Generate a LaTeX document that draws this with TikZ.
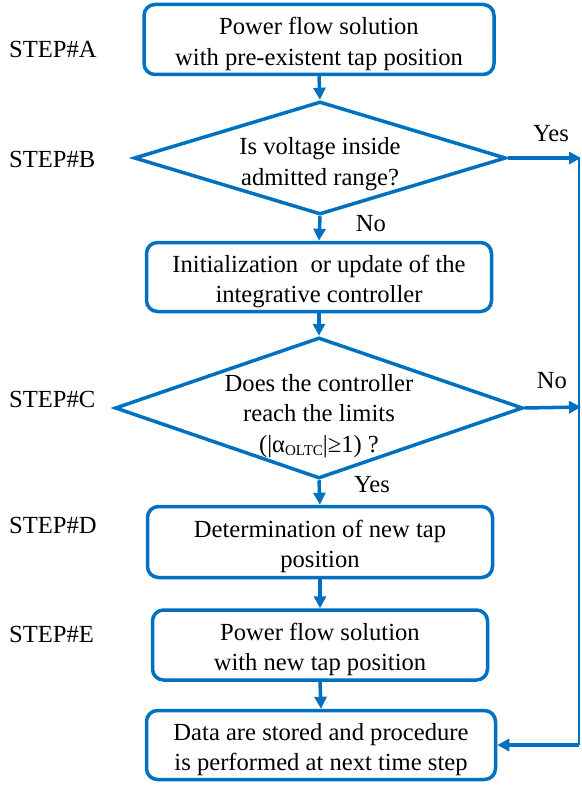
\documentclass[tikz,border=0pt]{standalone}
\usepackage{fontspec}
\setmainfont{Liberation Serif}
\newfontfamily\tnr{Liberation Serif}
\usetikzlibrary{arrows.meta,shapes.geometric}
\definecolor{flowblue}{RGB}{0,112,192}
\newcommand{\boxtxt}[1]{\raisebox{-4.5pt}[\height][\depth]{\begin{tabular}{@{}c@{}}#1\end{tabular}}}
\begin{document}
\begin{tikzpicture}[x=1pt,y=-1pt,
  every node/.style={font=\tnr\fontsize{24.6}{30.5}\selectfont, text=black},
  procbox/.style={draw=flowblue, line width=3.5pt, rounded corners=11pt, align=center, inner sep=0pt},
  decbox/.style={draw=flowblue, line width=3.5pt, diamond, inner sep=0pt},
  dectext/.style={align=center, inner sep=0pt},
  steplabel/.style={anchor=west, inner sep=0pt},
  flowarrow/.style={draw=flowblue, line width=3.5pt, -{Triangle[length=12pt,width=12pt]}},
  returnline/.style={draw=flowblue, line width=2pt}
]
\useasboundingbox (0,0) rectangle (581,786);

% boxes
\node[procbox, minimum width=350pt, minimum height=70pt] (A) at (319,39.5)
  {\boxtxt{Power flow solution\\with pre-existent tap position}};
\node[decbox, minimum width=372pt, minimum height=113pt] (B) at (320,158) {};
\node[dectext] (Bt) at (320,164) {Is voltage inside\\admitted range?};
\node[procbox, minimum width=345pt, minimum height=69pt] (C1) at (319,277)
  {\boxtxt{Initialization\ \ or update of the\\integrative controller}};
\node[decbox, minimum width=408pt, minimum height=141pt] (C) at (319,408) {};
\node[dectext] (Ct) at (319,416)
  {Does the controller\\reach the limits\\(|α\raisebox{-0.3ex}{\fontsize{15}{15}\selectfont OLTC}|≥1) ?};
\node[procbox, minimum width=345pt, minimum height=71pt] (D) at (320,542)
  {\boxtxt{Determination of new tap\\position}};
\node[procbox, minimum width=335pt, minimum height=70pt] (E) at (320,645)
  {\boxtxt{Power flow solution\\with new tap position}};
\node[procbox, minimum width=349pt, minimum height=69pt] (F) at (321,745)
  {\boxtxt{Data are stored and procedure\\is performed at next time step}};

% step labels
\node[steplabel] (sA) at (9,49) {STEP\#A};
\node[steplabel] (sB) at (9,159) {STEP\#B};
\node[steplabel] (sC) at (9,399) {STEP\#C};
\node[steplabel] (sD) at (9,525) {STEP\#D};
\node[steplabel] (sE) at (9,634) {STEP\#E};

% yes/no labels
\node (noB) at (371,224) {No};
\node (yesC) at (372,485) {Yes};
\node (yesB) at (551,134) {Yes};
\node (noC) at (552,381) {No};

% right side coordinates
\coordinate (r1) at (581,158);
\coordinate (r2) at (581,407);
\coordinate (r3) at (579,745);
\coordinate (rtop) at (579,158);

% main flow arrows
\draw[flowarrow] (A.south) -- (B.north);
\draw[flowarrow] (B.south) -- (C1.north);
\draw[flowarrow] (C1.south) -- (C.north);
\draw[flowarrow] (C.south) -- (D.north);
\draw[flowarrow] (D.south) -- (E.north);
\draw[flowarrow] (E.south) -- (F.north);

% side branches
\draw[flowarrow] (B.east) -- (r1);
\draw[flowarrow] (C.east) -- (r2);
\draw[returnline] (rtop) -- (r3);
\draw[flowarrow] (r3) -- (F.east);
\end{tikzpicture}
\end{document}
